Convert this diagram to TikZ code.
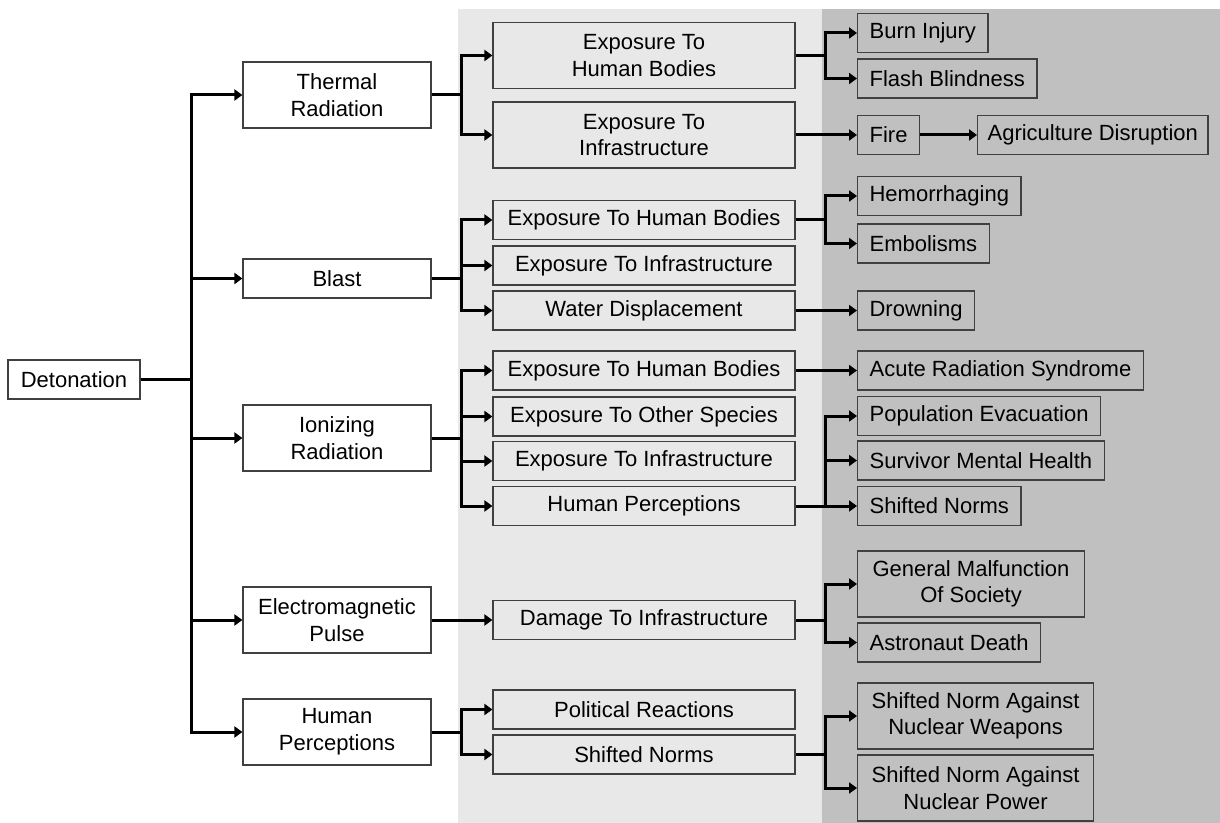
\documentclass[tikz,border=0pt]{standalone}
\usepackage{fontspec}
\setmainfont{Liberation Sans}
\usepackage{tikz}
\usetikzlibrary{arrows.meta,positioning}
\definecolor{lightband}{HTML}{E8E8E8}
\definecolor{darkband}{HTML}{C0C0C0}
\tikzset{
    %Define standard arrow tip
    >={Triangle[length=4pt,width=5.5pt]},
    %Define style for boxes
    root/.style={
           rectangle,
           draw=black!75, line width=0.6pt,
           minimum width=66pt,
           minimum height=19.5pt,
           font=\fontsize{11}{13.3}\selectfont,
           align=center,
           fill=white},
    cause/.style={
           rectangle,
           draw=black!75, line width=0.6pt,
           minimum width=94pt,
           minimum height=19.5pt,
           font=\fontsize{11}{13.3}\selectfont,
           align=center,
           fill=white},
    exposure/.style={
           rectangle,
           draw=black!75, line width=0.6pt,
           minimum width=151pt,
           minimum height=19.5pt,
           font=\fontsize{11}{13.3}\selectfont,
           align=center,
           fill=lightband},
    outcome/.style={
           rectangle,
           anchor=west,
           draw=black!75, line width=0.6pt,
           inner xsep=6pt,
           minimum height=19.5pt,
           font=\fontsize{11}{13.3}\selectfont,
           align=center,
           fill=darkband},
    tall/.style={minimum height=33pt},
    % Define arrow style
    link/.style={
           ->,
           line width=1.5pt}
}
\begin{document}
\begin{tikzpicture}[x=0.5pt,y=-0.5pt]
\useasboundingbox (0,0) rectangle (1220,823);
% bands
\fill[lightband] (458,9) rectangle (822,823);
\fill[darkband] (822,9) rectangle (1220,823);

\node[root] (det) at (74,379.5) {Detonation};

\node[cause,tall] (thr) at (337,95) {Thermal\\Radiation};
\node[cause] (bla) at (337,278.5) {Blast};
\node[cause,tall] (ion) at (337,438) {Ionizing\\Radiation};
\node[cause,tall] (emp) at (337,620) {Electromagnetic\\Pulse};
\node[cause,tall] (hup) at (337,732) {Human\\Perceptions};

\node[exposure,tall] (thrhb) at (644,55.5) {Exposure To\\Human Bodies};
\node[exposure,tall] (thrinf) at (644,135) {Exposure To\\Infrastructure};
\node[exposure] (blahb) at (644,220) {Exposure To Human Bodies};
\node[exposure] (blainf) at (644,265.5) {Exposure To Infrastructure};
\node[exposure] (blawat) at (644,310.5) {Water Displacement};
\node[exposure] (ionhb) at (644,370.5) {Exposure To Human Bodies};
\node[exposure] (ionsp) at (644,416.5) {Exposure To Other Species};
\node[exposure] (ioninf) at (644,461) {Exposure To Infrastructure};
\node[exposure] (ionhp) at (644,506) {Human Perceptions};
\node[exposure] (dmg) at (644,620) {Damage To Infrastructure};
\node[exposure] (pol) at (644,709.5) {Political Reactions};
\node[exposure] (shn) at (644,754.5) {Shifted Norms};

\node[outcome] (burn) at (857,33) {Burn Injury};
\node[outcome] (flash) at (857,78.5) {Flash Blindness};
\node[outcome] (fire) at (857,135) {Fire};
\node[outcome,inner xsep=5pt] (agri) at (977,135) {Agriculture Disruption};
\node[outcome] (hem) at (857,196) {Hemorrhaging};
\node[outcome] (emb) at (857,243.5) {Embolisms};
\node[outcome] (drown) at (857,310.5) {Drowning};
\node[outcome] (acute) at (857,370.5) {Acute Radiation Syndrome};
\node[outcome] (pop) at (857,416) {Population Evacuation};
\node[outcome] (surv) at (857,460.5) {Survivor Mental Health};
\node[outcome] (sn) at (857,506) {Shifted Norms};
\node[outcome,tall,inner xsep=7.5pt] (gm) at (857,584) {General Malfunction\\Of Society};
\node[outcome] (astro) at (857,642.5) {Astronaut Death};
\node[outcome,tall,inner xsep=7pt] (snw) at (857,716) {Shifted Norm Against\\Nuclear Weapons};
\node[outcome,tall,inner xsep=7pt] (snp) at (857,788) {Shifted Norm Against\\Nuclear Power};

\foreach \n in {thr,bla,ion,emp,hup}
  \draw[link] (det.east) -- ++(51,0) |- (\n.west);
\foreach \a/\b in {thr/thrhb,thr/thrinf,bla/blahb,bla/blainf,bla/blawat,
    ion/ionhb,ion/ionsp,ion/ioninf,ion/ionhp,emp/dmg,hup/pol,hup/shn,
    thrhb/burn,thrhb/flash,thrinf/fire,fire/agri,blahb/hem,blahb/emb,
    blawat/drown,ionhb/acute,ionhp/pop,ionhp/surv,ionhp/sn,
    dmg/gm,dmg/astro,shn/snw,shn/snp}
  \draw[link] (\a.east) -- ++(30,0) |- (\b.west);
\end{tikzpicture}
\end{document}
